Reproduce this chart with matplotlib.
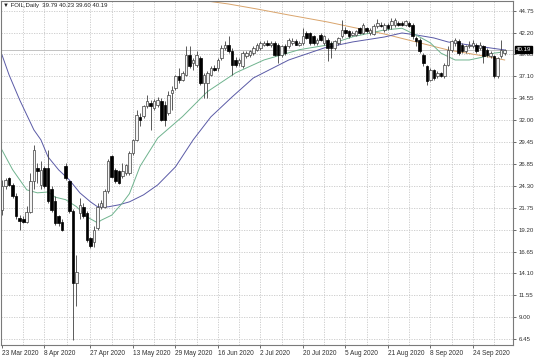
import matplotlib
matplotlib.use("Agg")
import matplotlib.pyplot as plt
import numpy as np

# ---------------- data ----------------
opens = [21.5, 24.25, 25.2, 24.45, 23.1, 20.6, 20.4, 20.05, 21.3, 24.85,
         26.4, 24.4, 26.4, 26.4, 23.9, 22.5, 20.75, 20.15, 26.6, 24.85,
         21.35, 12.97, 21.15, 21.9, 21.15, 18.2, 17.8, 19.4, 21.9, 21.9,
         23.7, 27.75, 26.2, 26.0, 25.41, 25.8, 25.8, 28.13, 29.69, 32.34,
         32.41, 33.58, 33.97, 33.4, 33.8, 34.16, 33.78, 32.8, 35.14, 35.72,
         37.08, 36.69, 37.28, 39.61, 38.64, 38.44, 39.22, 36.31, 36.31, 37.28,
         38.06, 38.06, 39.22, 40.39, 40.78, 40.0, 39.03, 38.64, 38.25, 39.42,
         39.61, 39.81, 40.2, 40.4, 40.78, 40.98, 40.78, 40.98, 40.78, 39.62,
         40.59, 40.59, 41.0, 41.17, 40.78, 40.98, 42.15, 42.15, 41.76, 40.98,
         41.95, 40.98, 41.37, 40.98, 40.40, 40.98, 41.76, 42.54, 42.34, 41.95,
         41.95, 42.73, 42.15, 42.73, 42.15, 42.0, 42.92, 43.12, 42.54, 43.12,
         43.12, 43.12, 43.31, 43.31, 43.12, 43.31, 43.12, 41.56, 41.37, 39.62,
         38.25, 36.70, 37.87, 37.09, 37.48, 37.09, 38.45, 40.20, 40.98, 41.17,
         40.78, 40.01, 40.59, 40.59, 40.78, 40.40, 40.59, 40.2, 39.42, 39.42,
         37.09, 39.42, 39.79]
highs = [25.0, 25.2, 25.4, 24.6, 23.5, 20.9, 20.8, 22.0, 25.8, 29.1,
         27.0, 27.2, 26.6, 28.5, 24.25, 23.1, 20.95, 20.4, 27.0, 25.0,
         21.6, 16.3, 22.9, 22.3, 21.35, 18.4, 19.6, 22.3, 22.7, 23.9,
         27.4, 27.95, 26.4, 26.2, 26.97, 26.9, 28.33, 29.8, 33.19, 32.8,
         33.78, 34.94, 34.36, 34.5, 34.7, 34.55, 34.16, 35.33, 35.92, 37.28,
         38.06, 37.67, 40.58, 40.58, 39.22, 40.0, 39.42, 37.5, 37.67, 38.25,
         38.44, 39.22, 40.78, 41.2, 41.75, 40.4, 39.4, 39.2, 40.0, 40.0,
         40.2, 40.6, 41.0, 41.2, 41.2, 41.3, 41.2, 41.17, 40.98, 40.8,
         40.9, 41.56, 41.6, 41.4, 41.2, 42.73, 42.4, 42.3, 41.95, 41.6,
         42.2, 41.9, 41.56, 41.2, 41.3, 41.7, 43.70, 42.8, 42.5, 42.4,
         42.5, 42.9, 43.3, 42.9, 42.7, 43.2, 43.8, 43.4, 43.3, 43.3,
         43.9, 43.9, 43.6, 43.5, 43.7, 43.5, 43.3, 41.76, 41.56, 39.81,
         38.45, 38.06, 38.0, 37.67, 37.6, 38.6, 40.59, 41.37, 41.6, 41.4,
         41.0, 40.8, 41.2, 41.3, 41.0, 41.1, 40.8, 40.4, 40.0, 39.6,
         39.4, 41.37, 40.23]
lows = [20.9, 24.0, 24.25, 22.9, 20.5, 19.2, 19.95, 19.95, 21.1, 23.9,
        24.6, 24.0, 24.1, 22.3, 21.3, 19.8, 19.6, 19.0, 25.0, 21.1,
        6.35, 10.25, 20.4, 20.55, 17.8, 17.1, 17.2, 19.2, 21.6, 21.7,
        23.5, 25.2, 24.6, 24.5, 25.2, 25.6, 25.6, 27.9, 29.5, 31.25,
        32.2, 33.4, 30.86, 33.2, 33.5, 31.83, 31.25, 32.61, 33.2, 35.5,
        36.3, 36.5, 37.1, 38.06, 37.86, 38.2, 36.11, 34.55, 34.55, 37.08,
        37.67, 37.67, 39.03, 40.2, 39.81, 37.28, 38.2, 38.3, 38.06, 39.2,
        39.4, 39.6, 40.0, 40.2, 40.6, 40.6, 40.5, 39.42, 38.64, 39.4,
        39.6, 40.4, 40.8, 40.7, 40.6, 40.8, 41.4, 40.8, 40.8, 40.8,
        41.2, 40.8, 38.84, 39.2, 40.2, 40.8, 41.56, 42.0, 41.6, 41.8,
        41.8, 42.0, 42.0, 42.2, 41.9, 41.9, 42.7, 42.8, 42.3, 42.5,
        42.6, 42.9, 43.0, 43.0, 43.0, 42.9, 41.5, 40.6, 39.8, 38.25,
        36.12, 36.50, 36.7, 36.9, 37.0, 36.9, 38.25, 39.9, 40.6, 39.6,
        39.8, 39.8, 40.4, 40.4, 39.8, 40.2, 38.64, 39.4, 39.2, 36.89,
        36.9, 39.2, 39.60]
closes = [24.3, 25.0, 24.45, 23.1, 20.75, 20.2, 20.05, 21.3, 24.85, 28.5,
          26.0, 26.2, 24.25, 22.5, 21.5, 19.95, 19.95, 19.2, 25.2, 21.35,
          12.97, 14.3, 22.1, 20.75, 18.0, 17.25, 19.2, 21.9, 22.3, 23.7,
          27.2, 25.4, 24.85, 24.65, 25.99, 26.8, 28.13, 29.69, 32.61, 31.95,
          33.58, 34.16, 33.58, 34.16, 34.36, 32.02, 32.02, 34.94, 35.53, 37.08,
          36.69, 37.47, 39.61, 38.25, 39.03, 39.61, 36.31, 37.28, 37.47, 38.06,
          37.78, 39.03, 40.39, 40.78, 40.0, 38.44, 38.44, 39.03, 39.81, 39.81,
          40.0, 40.39, 40.78, 40.98, 40.98, 40.78, 40.98, 39.62, 39.62, 40.59,
          39.81, 41.37, 41.17, 40.78, 40.98, 41.76, 41.56, 40.98, 40.98, 41.37,
          41.37, 41.76, 40.40, 40.40, 41.17, 41.56, 42.54, 42.15, 41.76, 42.15,
          42.34, 42.15, 43.12, 42.34, 42.54, 42.92, 43.31, 42.92, 43.12, 42.73,
          43.51, 43.70, 43.12, 43.12, 43.51, 43.0, 41.76, 41.17, 40.01, 38.64,
          36.50, 37.87, 36.89, 37.48, 37.09, 38.45, 40.20, 41.17, 41.37, 39.81,
          40.01, 40.59, 40.78, 40.98, 40.01, 40.78, 39.42, 39.62, 39.81, 37.09,
          39.23, 40.20, 40.19]

# moving averages read at sample bars
ma_fast_idx = [0, 3, 7, 10, 13, 15, 18, 21, 24, 27, 28, 31, 34, 36, 39, 44, 51, 58,
               66, 74, 84, 92, 99, 108, 113, 117, 121, 124, 128, 132, 136, 139, 142]
ma_fast_val = [28.5, 26.2, 23.85, 23.5, 23.6, 23.0, 22.7, 21.9, 20.7, 20.0, 20.3, 20.9,
               22.3, 23.4, 26.6, 29.9, 32.4, 35.3, 37.5, 39.0, 40.2, 40.75, 41.7, 42.5,
               42.7, 41.9, 41.0, 39.8, 39.0, 39.0, 39.35, 39.8, 39.95]
ma_mid_idx = [0, 2, 5, 9, 11, 13, 16, 19, 22, 25, 27, 30, 33, 36, 40, 44, 49, 54, 59,
              65, 71, 81, 91, 99, 108, 113, 117, 122, 126, 132, 138, 142]
ma_mid_val = [39.59, 37.26, 34.34, 30.85, 29.68, 27.70, 26.18, 25.02, 23.50, 22.45,
              21.87, 21.87, 22.10, 22.45, 23.27, 24.43, 26.53, 29.68, 32.36, 34.69,
              36.90, 39.0, 40.40, 41.10, 41.68, 42.15, 41.92, 41.57, 41.10, 40.75,
              40.40, 40.17]
ma_slow_idx = [51, 64, 72, 81, 92, 108, 117, 126, 136, 142]
ma_slow_val = [46.27, 45.53, 44.95, 44.25, 43.43, 42.03, 41.10, 40.17, 39.47, 39.0]

price_ticks = [44.75, 42.20, 39.65, 37.10, 34.55, 32.00, 29.45, 26.85, 24.30,
               21.75, 19.20, 16.65, 14.10, 11.55, 9.00, 6.45]
date_idx = [0, 12, 25, 37, 49, 61, 73, 85, 97, 109, 121, 133]
date_labels = ["23 Mar 2020", "8 Apr 2020", "27 Apr 2020", "13 May 2020",
               "29 May 2020", "16 Jun 2020", "2 Jul 2020", "20 Jul 2020",
               "5 Aug 2020", "21 Aug 2020", "8 Sep 2020", "24 Sep 2020"]
title = "FOIL,Daily  39.79 40.23 39.60 40.19"
last_price = 40.19

# ---------------- figure ----------------
plt.rcParams['font.family'] = ['Liberation Sans', 'DejaVu Sans']
W, H = 536, 358
fig = plt.figure(figsize=(W / 100, H / 100), dpi=100)
fig.patch.set_facecolor('white')
ax = fig.add_axes([1 / W, 13 / H, 512 / W, 344 / H])
ax.set_facecolor('white')

n = len(closes)
x = np.arange(n)
o = np.array(opens); c = np.array(closes)
h = np.array(highs); l = np.array(lows)

ax.set_xlim(-0.28, 144.35)
ax.set_ylim(5.75, 45.88)

# grid
grid_kw = dict(color='#c8c8c8', lw=0.6, ls=(0, (1.5, 1.5)), zorder=0)
for p in price_ticks:
    ax.axhline(p, **grid_kw)
gpos = list(date_idx[1:]) + [(a + b) / 2 for a, b in zip(date_idx[:-1], date_idx[1:])] + [139]
for g in gpos:
    ax.axvline(g, **grid_kw)

# bid line
ax.axhline(last_price, color='#b8b8b8', lw=0.6, zorder=1)

# moving averages
ax.plot(ma_slow_idx, ma_slow_val, color='#d9a46c', lw=0.7, zorder=2)
ax.plot(ma_mid_idx, ma_mid_val, color='#5a5aa6', lw=0.7, zorder=2)
ax.plot(ma_fast_idx, ma_fast_val, color='#6fb38e', lw=0.7, zorder=2)

# candles
ax.vlines(x, l, h, color='#404040', lw=0.6, zorder=3)
bull = c >= o
body_bottom = np.minimum(o, c)
body_h = np.maximum(np.abs(c - o), 0.06)
ax.bar(x[bull], body_h[bull], bottom=body_bottom[bull], width=0.72,
       color='#f4f4f4', edgecolor='#404040', linewidth=0.5, zorder=4)
ax.bar(x[~bull], body_h[~bull], bottom=body_bottom[~bull], width=0.72,
       color='black', edgecolor='black', linewidth=0.5, zorder=4)

# axes styling
for s in ax.spines.values():
    s.set_color('#7a7a7a')
    s.set_linewidth(0.8)
ax.yaxis.tick_right()
ax.set_yticks(price_ticks)
ax.set_yticklabels([f"{p:.2f}" for p in price_ticks])
ax.tick_params(axis='y', length=2, width=0.5, pad=2, labelsize=4.4,
               colors='#303030', direction='out')
ax.set_xticks(date_idx)
ax.set_xticklabels(date_labels)
ax.tick_params(axis='x', length=2, width=0.5, pad=1.5, labelsize=4.7,
               colors='#303030', direction='out')
for t in ax.get_xticklabels():
    t.set_horizontalalignment('left')

# last price box
ax.text(1.005, (last_price - 5.75) / (45.88 - 5.75), f"{last_price:.2f}",
        transform=ax.transAxes, ha='left', va='center', fontsize=4.4,
        color='white', bbox=dict(boxstyle='square,pad=0.15', fc='black', ec='black'),
        zorder=10, clip_on=False)

# title
fig.text(3 / W, 1 - 5.5 / H, "\u25BC " + title, ha='left', va='center',
         fontsize=4.3, color='#202020')

fig.savefig('out.png', dpi=100, facecolor='white')
